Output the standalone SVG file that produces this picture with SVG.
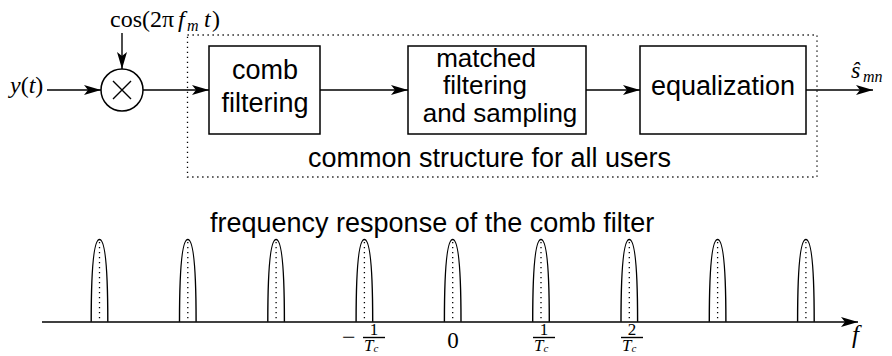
<svg xmlns="http://www.w3.org/2000/svg" xmlns:xlink="http://www.w3.org/1999/xlink" width="892" height="356" viewBox="0 0 892 356">
  <style>
    .box { fill: #fff; stroke: #000; stroke-width: 1.5; }
    .wire { fill: none; stroke: #000; stroke-width: 1.4; }
    .dots { fill: none; stroke: #000; stroke-width: 1.3; stroke-dasharray: 1.3 3.7; }
    .lbl { font-family: "Liberation Sans", Arial, sans-serif; font-size: 27px; fill: #000; }
    .math { font-family: "Liberation Serif", "DejaVu Serif", serif; fill: #000; }
    .it { font-style: italic; }
  </style>
  <defs>
    <marker id="arrow" markerUnits="userSpaceOnUse" markerWidth="20" markerHeight="12" viewBox="-18 -6 20 12" refX="0" refY="0" orient="auto" overflow="visible">
      <path d="M0,0 L-17,-5 L-13,0 L-17,5 Z" fill="#000"/>
    </marker>
    <!-- one passband lobe of the comb filter, centred on x=0, base on the axis -->
    <g id="lobe">
      <path d="M-8.3,321.7 C-8.3,272 -6,239.5 0,239.5 C6,239.5 8.3,272 8.3,321.7" fill="none" stroke="#000" stroke-width="1.4"/>
      <line x1="0" y1="242" x2="0" y2="321" class="dots" stroke-dasharray="1.2 2.8"/>
    </g>
  </defs>

  <rect width="892" height="356" fill="#fff"/>

  <!-- dotted frame around the shared receiver chain -->
  <g id="common-structure">
    <rect x="187.5" y="35" width="629.5" height="142" class="dots"/>
    <text class="lbl" x="308" y="167">common structure for all users</text>
  </g>

  <!-- input and mixer -->
  <g id="input">
    <text class="math" font-size="24" x="10" y="93"><tspan class="it">y</tspan>(<tspan class="it">t</tspan>)</text>
  </g>
  <g id="carrier">
    <text class="math" font-size="24" y="27"><tspan x="110">cos(2π</tspan><tspan x="178" class="it">f</tspan><tspan x="187" y="31" font-size="16" class="it">m</tspan><tspan x="204" y="27" class="it">t</tspan><tspan x="212">)</tspan></text>
  </g>
  <g id="mixer">
    <circle cx="122" cy="90" r="21" class="box"/>
    <path d="M113,81 L131,99 M131,81 L113,99" class="wire"/>
  </g>

  <!-- processing blocks -->
  <g id="comb-filtering">
    <rect x="209" y="46" width="111" height="88" class="box"/>
    <text class="lbl" text-anchor="middle" x="265" y="79">comb</text>
    <text class="lbl" text-anchor="middle" x="265" y="112">filtering</text>
  </g>
  <g id="matched-filtering" font-size="26">
    <rect x="408" y="46" width="178" height="88" class="box"/>
    <text class="lbl" style="font-size:26px" text-anchor="middle" x="486" y="67">matched</text>
    <text class="lbl" style="font-size:26px" text-anchor="middle" x="485" y="94">filtering</text>
    <text class="lbl" style="font-size:26px" text-anchor="middle" x="500" y="122">and sampling</text>
  </g>
  <g id="equalization">
    <rect x="640" y="46" width="166" height="88" class="box"/>
    <text class="lbl" text-anchor="middle" x="723" y="95">equalization</text>
  </g>
  <g id="output">
    <text class="math" font-size="24" x="851" y="78"><tspan class="it">ŝ</tspan><tspan x="863" y="82" font-size="16" class="it">mn</tspan></text>
  </g>

  <!-- signal flow -->
  <g id="connectors">
    <line x1="47" y1="90" x2="101" y2="90" class="wire" marker-end="url(#arrow)"/>
    <line x1="122" y1="33" x2="122" y2="69" class="wire" marker-end="url(#arrow)"/>
    <line x1="143" y1="90" x2="209" y2="90" class="wire" marker-end="url(#arrow)"/>
    <line x1="320" y1="90" x2="408" y2="90" class="wire" marker-end="url(#arrow)"/>
    <line x1="586" y1="90" x2="640" y2="90" class="wire" marker-end="url(#arrow)"/>
    <line x1="806" y1="90" x2="873" y2="90" class="wire" marker-end="url(#arrow)"/>
  </g>

  <!-- frequency response sketch -->
  <g id="comb-response">
    <text class="lbl" x="210" y="232">frequency response of the comb filter</text>
    <line x1="42" y1="322" x2="858" y2="322" class="wire" marker-end="url(#arrow)"/>
    <use xlink:href="#lobe" x="99.5"/>
    <use xlink:href="#lobe" x="187.8"/>
    <use xlink:href="#lobe" x="276.1"/>
    <use xlink:href="#lobe" x="364.4"/>
    <use xlink:href="#lobe" x="452.7"/>
    <use xlink:href="#lobe" x="541"/>
    <use xlink:href="#lobe" x="629.3"/>
    <use xlink:href="#lobe" x="717.6"/>
    <use xlink:href="#lobe" x="805.9"/>
    <text class="math it" font-size="25" x="852" y="343">f</text>

    <!-- tick labels -->
    <text class="math" font-size="24" x="342" y="345">−</text>
    <line x1="363" y1="337.5" x2="385" y2="337.5" stroke="#000" stroke-width="1.4"/>
    <text class="math" font-size="17" text-anchor="middle" x="374" y="335">1</text>
    <text class="math it" font-size="17" x="364" y="351">T<tspan font-size="11" dy="1">c</tspan></text>

    <text class="math" font-size="23" text-anchor="middle" x="453" y="348">0</text>

    <line x1="533" y1="337.5" x2="555" y2="337.5" stroke="#000" stroke-width="1.4"/>
    <text class="math" font-size="17" text-anchor="middle" x="544" y="335">1</text>
    <text class="math it" font-size="17" x="534" y="351">T<tspan font-size="11" dy="1">c</tspan></text>

    <line x1="621" y1="337.5" x2="643" y2="337.5" stroke="#000" stroke-width="1.4"/>
    <text class="math" font-size="17" text-anchor="middle" x="632" y="335">2</text>
    <text class="math it" font-size="17" x="622" y="351">T<tspan font-size="11" dy="1">c</tspan></text>
  </g>
</svg>
